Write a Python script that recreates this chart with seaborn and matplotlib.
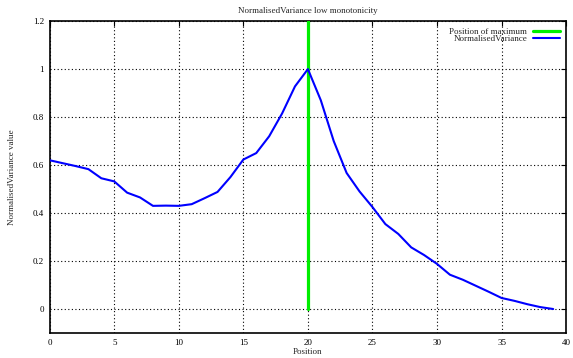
import matplotlib
matplotlib.use("Agg")
import matplotlib.pyplot as plt
import seaborn as sns
import pandas as pd
from matplotlib.ticker import FuncFormatter, MultipleLocator

positions = list(range(40))
variance = [0.620, 0.608, 0.596, 0.583, 0.545, 0.532, 0.485, 0.465, 0.430, 0.431,
            0.430, 0.437, 0.462, 0.488, 0.550, 0.623, 0.650, 0.720, 0.815, 0.928,
            1.000, 0.870, 0.700, 0.567, 0.490, 0.425, 0.354, 0.313, 0.257, 0.225,
            0.188, 0.143, 0.122, 0.097, 0.072, 0.046, 0.034, 0.020, 0.008, 0.000]
max_position = [20, 20]
max_span = [0.0, 1.2]

title = "NormalisedVariance low monotonicity"
xlabel = "Position"
ylabel = "NormalisedVariance value"
label_max = "Position of maximum"
label_var = "NormalisedVariance"

sns.set_style("white")
plt.rcParams["font.family"] = ["Liberation Serif", "DejaVu Serif"]
plt.rcParams["font.size"] = 6.5

df = pd.DataFrame({"Position": positions, "Value": variance})
dmax = pd.DataFrame({"Position": max_position, "Value": max_span})

fig = plt.figure(figsize=(5.73, 3.58), dpi=100)
ax = fig.add_axes([0.0867, 0.0698, 0.9013, 0.8712])

sns.lineplot(data=dmax, x="Position", y="Value", ax=ax, color="#00ee00",
             linewidth=2.3, label=label_max, zorder=3, estimator=None,
             sort=False, errorbar=None)
sns.lineplot(data=df, x="Position", y="Value", ax=ax, color="#0000ff",
             linewidth=1.5, label=label_var, zorder=4, estimator=None,
             errorbar=None)

ax.set_xlim(0, 40)
ax.set_ylim(-0.1, 1.2)
ax.xaxis.set_major_locator(MultipleLocator(5))
ax.set_yticks([0, 0.2, 0.4, 0.6, 0.8, 1.0, 1.2])
ax.yaxis.set_major_formatter(FuncFormatter(lambda v, p: f"{v:g}"))
ax.xaxis.set_major_formatter(FuncFormatter(lambda v, p: f"{v:g}"))

ax.grid(True, color="black", linestyle=(0, (1, 2.2)), linewidth=0.8)
ax.tick_params(direction="in", length=3.5, width=0.8, top=True, right=True,
               labelsize=6.5, pad=4, colors="black")
for s in ax.spines.values():
    s.set_color("black")
    s.set_linewidth(1.2)

ax.set_title(title, fontsize=6.5, pad=6)
ax.set_xlabel(xlabel, fontsize=6.5, labelpad=1)
ax.set_ylabel(ylabel, fontsize=6.5, labelpad=12)

leg = ax.legend(loc="upper right", frameon=False, markerfirst=False,
                fontsize=6.5, handlelength=3.0, labelspacing=-0.1,
                handletextpad=0.6, borderaxespad=0.3)

fig.savefig("out.png", dpi=100)
